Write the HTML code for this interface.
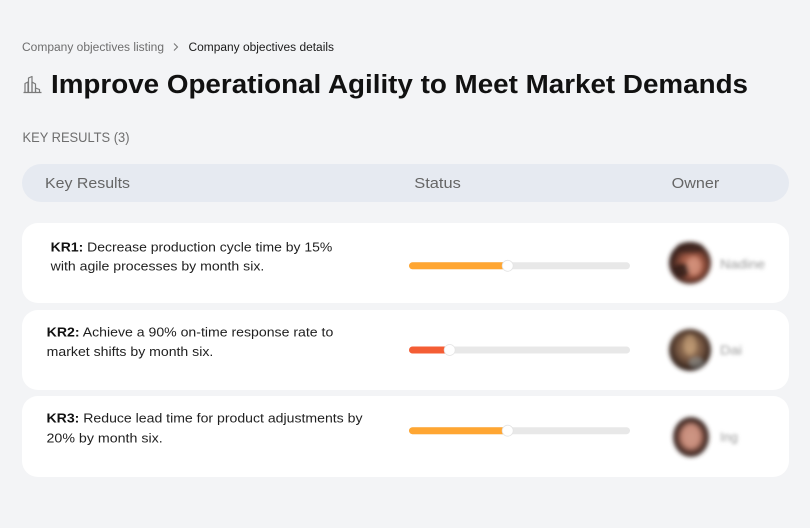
<!DOCTYPE html>
<html>
<head>
<meta charset="utf-8">
<style>
html,body{margin:0;padding:0;background:#f3f4f6;}
svg{display:block;}
text{font-family:"Liberation Sans",sans-serif;}
</style>
</head>
<body>
<svg width="810" height="528" viewBox="0 0 810 528" xmlns="http://www.w3.org/2000/svg">
<defs>
  <filter id="b2" x="-30%" y="-30%" width="160%" height="160%"><feGaussianBlur stdDeviation="2"/></filter>
  <filter id="bt" x="-30%" y="-80%" width="160%" height="260%"><feGaussianBlur stdDeviation="1.9"/></filter>
  <radialGradient id="a1" cx="55%" cy="55%" r="55%">
    <stop offset="0" stop-color="#c98a72"/>
    <stop offset="0.45" stop-color="#a35a45"/>
    <stop offset="0.8" stop-color="#4a2a22"/>
    <stop offset="1" stop-color="#2e1c18"/>
  </radialGradient>
  <radialGradient id="a2" cx="50%" cy="45%" r="55%">
    <stop offset="0" stop-color="#b8936e"/>
    <stop offset="0.5" stop-color="#7a5a44"/>
    <stop offset="0.85" stop-color="#3e2b22"/>
    <stop offset="1" stop-color="#2a1e1a"/>
  </radialGradient>
  <radialGradient id="a3" cx="50%" cy="50%" r="50%">
    <stop offset="0" stop-color="#d09a88"/>
    <stop offset="0.5" stop-color="#b77a68"/>
    <stop offset="0.75" stop-color="#5a3a32"/>
    <stop offset="1" stop-color="#3a2a26"/>
  </radialGradient>
</defs>

<rect width="810" height="528" fill="#f3f4f6"/>

<!-- breadcrumb -->
<text x="22" y="51" font-size="11.5" fill="#6e6e6e" textLength="142" lengthAdjust="spacingAndGlyphs">Company objectives listing</text>
<path d="M174 43.5 L177.5 47 L174 50.5" fill="none" stroke="#777" stroke-width="1.1"/>
<text x="188.5" y="51" font-size="11.5" fill="#1b1b1b" textLength="145.5" lengthAdjust="spacingAndGlyphs">Company objectives details</text>

<!-- icon -->
<g fill="none" stroke="#7a7a7a" stroke-width="1.2" stroke-linejoin="round">
  <path d="M23.5 92.5 H41.5"/>
  <path d="M25 92 V83.5 L28 82 V92"/>
  <path d="M28.5 92 V78 L32 76.5 V92"/>
  <path d="M32 92 V82 L35.5 84 V92"/>
  <path d="M35.5 92 V88 L39.5 89.5 V92"/>
</g>

<!-- title -->
<text x="51" y="93" font-size="25.5" font-weight="bold" fill="#111111" textLength="697" lengthAdjust="spacingAndGlyphs">Improve Operational Agility to Meet Market Demands</text>

<!-- key results label -->
<text x="22.5" y="142" font-size="14" fill="#6e6e6e" textLength="107" lengthAdjust="spacingAndGlyphs">KEY RESULTS (3)</text>

<!-- header bar -->
<rect x="22" y="164" width="767" height="38" rx="19" fill="#e6eaf1"/>
<text x="45" y="188" font-size="15" fill="#666666" textLength="85" lengthAdjust="spacingAndGlyphs">Key Results</text>
<text x="414.3" y="188" font-size="15" fill="#666666" textLength="46.5" lengthAdjust="spacingAndGlyphs">Status</text>
<text x="671.7" y="188" font-size="15" fill="#666666" textLength="47.6" lengthAdjust="spacingAndGlyphs">Owner</text>

<!-- cards -->
<rect x="22" y="223" width="767" height="80" rx="16" fill="#ffffff"/>
<rect x="22" y="310" width="767" height="80" rx="16" fill="#ffffff"/>
<rect x="22" y="396" width="767" height="81" rx="16" fill="#ffffff"/>

<!-- KR1 -->
<text x="50.7" y="251.7" font-size="13" fill="#1f1f1f" textLength="281.6" lengthAdjust="spacingAndGlyphs"><tspan font-weight="bold" fill="#111">KR1:</tspan> Decrease production cycle time by 15%</text>
<text x="50.7" y="270.7" font-size="13" fill="#1f1f1f" textLength="213.6" lengthAdjust="spacingAndGlyphs">with agile processes by month six.</text>

<!-- KR2 -->
<text x="46.7" y="336.7" font-size="13" fill="#1f1f1f" textLength="286.6" lengthAdjust="spacingAndGlyphs"><tspan font-weight="bold" fill="#111">KR2:</tspan> Achieve a 90% on-time response rate to</text>
<text x="46.7" y="356" font-size="13" fill="#1f1f1f" textLength="166.6" lengthAdjust="spacingAndGlyphs">market shifts by month six.</text>

<!-- KR3 -->
<text x="46.5" y="422.7" font-size="13" fill="#1f1f1f" textLength="316" lengthAdjust="spacingAndGlyphs"><tspan font-weight="bold" fill="#111">KR3:</tspan> Reduce lead time for product adjustments by</text>
<text x="46.5" y="442.5" font-size="13" fill="#1f1f1f" textLength="116.2" lengthAdjust="spacingAndGlyphs">20% by month six.</text>

<!-- progress bars -->
<rect x="409" y="262.3" width="221" height="7" rx="3.5" fill="#e8e8e8"/>
<rect x="409" y="262.3" width="99" height="7" rx="3.5" fill="#ffa632"/>
<circle cx="507.7" cy="265.8" r="5.5" fill="#ffffff" stroke="#e4e4e4" stroke-width="0.8"/>

<rect x="409" y="346.5" width="221" height="7" rx="3.5" fill="#e8e8e8"/>
<rect x="409" y="346.5" width="41" height="7" rx="3.5" fill="#f45d34"/>
<circle cx="449.7" cy="350" r="5.5" fill="#ffffff" stroke="#e4e4e4" stroke-width="0.8"/>

<rect x="409" y="427.2" width="221" height="7" rx="3.5" fill="#e8e8e8"/>
<rect x="409" y="427.2" width="99" height="7" rx="3.5" fill="#ffa632"/>
<circle cx="507.7" cy="430.7" r="5.5" fill="#ffffff" stroke="#e4e4e4" stroke-width="0.8"/>

<!-- avatars -->
<g filter="url(#b2)">
  <circle cx="690" cy="263" r="21" fill="url(#a1)"/>
  <ellipse cx="682" cy="270" rx="8" ry="7" fill="#2a1a16" opacity="0.8"/>
  <ellipse cx="694" cy="266" rx="7" ry="9" fill="#d99680" opacity="0.7"/>
  <ellipse cx="690" cy="248" rx="14" ry="6" fill="#3a2320" opacity="0.7"/>
</g>
<g filter="url(#b2)">
  <circle cx="690" cy="350" r="21" fill="url(#a2)"/>
  <ellipse cx="690" cy="345" rx="6" ry="10" fill="#c7a27a" opacity="0.6"/>
  <ellipse cx="696" cy="362" rx="7" ry="5" fill="#9aa6a8" opacity="0.5"/>
</g>
<g filter="url(#b2)">
  <ellipse cx="691" cy="437" rx="18" ry="20" fill="url(#a3)"/>
  <ellipse cx="691" cy="436" rx="9" ry="12" fill="#cf9684" opacity="0.7"/>
</g>

<!-- blurred names -->
<text x="720" y="268.5" font-size="13" fill="#9a9a9a" filter="url(#bt)" textLength="45" lengthAdjust="spacingAndGlyphs">Nadine</text>
<text x="720" y="354.5" font-size="13" fill="#9a9a9a" filter="url(#bt)" textLength="22" lengthAdjust="spacingAndGlyphs">Dai</text>
<text x="720" y="441.5" font-size="13" fill="#9a9a9a" filter="url(#bt)" textLength="18" lengthAdjust="spacingAndGlyphs">Ing</text>
</svg>
</body>
</html>
